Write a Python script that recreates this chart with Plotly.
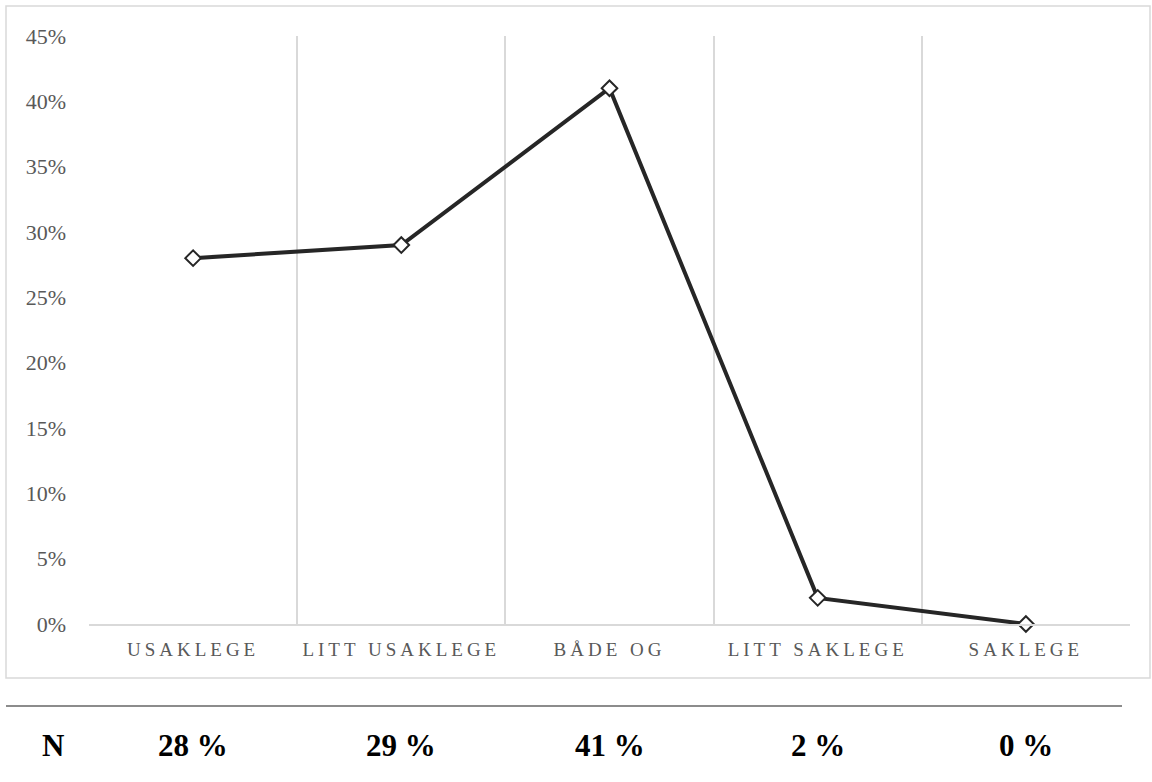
import plotly.graph_objects as go

categories = ["USAKLEGE", "LITT USAKLEGE", "BÅDE OG", "LITT SAKLEGE", "SAKLEGE"]
values = [0.28, 0.29, 0.41, 0.02, 0.00]
row_label = "N"

W, H = 1152, 782
L, R, T, B = 89, 22, 36, 158
pw, ph = W - L - R, H - T - B

def px_x(p):
    return (p - L) / pw

def px_y(p):
    return (H - B - p) / ph

serif = "Liberation Serif, Times New Roman, serif"
grid = "#d9d9d9"

fig = go.Figure()
fig.add_trace(go.Scatter(
    x=categories, y=values, mode="lines+markers",
    line=dict(color="#262626", width=4),
    marker=dict(symbol="diamond", size=12, color="white",
                line=dict(color="#262626", width=2)),
    cliponaxis=False, showlegend=False, hoverinfo="skip",
))

annotations = [dict(text=f"<b>{row_label}</b>", xref="paper", yref="paper",
                    x=px_x(53), y=px_y(745), xanchor="center", yanchor="middle",
                    showarrow=False, font=dict(family=serif, size=31, color="black"))]
for c, v in zip(categories, values):
    annotations.append(dict(text=f"<b>{round(v*100)} %</b>", xref="x", yref="paper",
                            x=c, y=px_y(745), xanchor="center", yanchor="middle",
                            showarrow=False, font=dict(family=serif, size=31, color="black")))

shapes = [
    dict(type="rect", xref="paper", yref="paper", x0=px_x(6), x1=px_x(1150),
         y0=px_y(678), y1=px_y(6), line=dict(color=grid, width=1.5), layer="below"),
    dict(type="line", xref="paper", yref="paper", x0=px_x(6), x1=px_x(1122),
         y0=px_y(706), y1=px_y(706), line=dict(color="#8c8c8c", width=2)),
]

fig.update_layout(
    width=W, height=H,
    margin=dict(l=L, r=R, t=T, b=B),
    paper_bgcolor="white", plot_bgcolor="white",
    annotations=annotations, shapes=shapes,
    xaxis=dict(type="category", tickson="boundaries", showgrid=True,
               gridcolor=grid, gridwidth=1.5, showline=True, linecolor=grid,
               linewidth=1.5, ticks="", ticklabelstandoff=7,
               range=[-0.5, len(categories) - 0.5],
               tickfont=dict(family=serif, size=19, color="#595959")),
    yaxis=dict(range=[0, 0.45], dtick=0.05, tickformat=".0%", showgrid=False,
               zeroline=False, showline=False, ticks="", ticklabelstandoff=22,
               tickfont=dict(family=serif, size=22, color="#595959")),
)

post = """
document.body.style.margin='0';
document.body.style.overflow='hidden';
document.querySelectorAll('.xtick text').forEach(function(t){t.style.letterSpacing='4px';});
"""
fig.write_html("out.html", post_script=post, config={"displayModeBar": False})
